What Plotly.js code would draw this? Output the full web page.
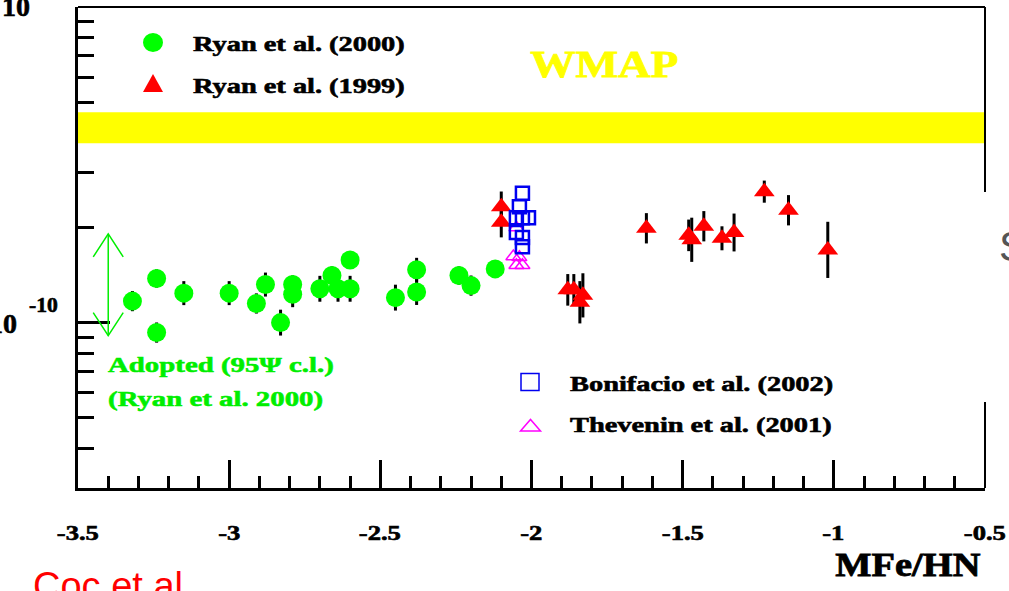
<!DOCTYPE html>
<html>
<head>
<meta charset="utf-8">
<script src="https://cdn.plot.ly/plotly-3.0.1.min.js"></script>
<style>
  html, body { margin: 0; padding: 0; background: #ffffff; }
  #chart { width: 1009px; height: 591px; }
</style>
</head>
<body>
<div id="chart"></div>
<script>
// Lithium abundance (Li/H) of metal-poor halo stars versus metallicity [Fe/H]

// Ryan et al. (2000)
const ryan2000Fe = [-3.32, -3.24, -3.24, -3.15, -3.00, -2.91, -2.88, -2.83, -2.79, -2.79, -2.70,
                    -2.66, -2.64, -2.60, -2.60, -2.45, -2.38, -2.38, -2.24, -2.20, -2.12];
const ryan2000Li = [1.17e-10, 1.38e-10, 0.93e-10, 1.24e-10, 1.24e-10, 1.15e-10, 1.32e-10, 1.00e-10,
                    1.32e-10, 1.23e-10, 1.28e-10, 1.41e-10, 1.28e-10, 1.58e-10, 1.28e-10, 1.20e-10,
                    1.47e-10, 1.25e-10, 1.41e-10, 1.31e-10, 1.48e-10];
const ryan2000ErrDex = [0.032, 0.029, 0.032, 0.038, 0.038, 0.032, 0.038, 0.041, 0.029, 0.041, 0.041,
                        0.029, 0.041, 0.025, 0.041, 0.041, 0.038, 0.041, 0.029, 0.032, 0.025];

// Ryan et al. (1999)
const ryan1999Fe = [-2.10, -2.10, -1.88, -1.86, -1.83, -1.84, -1.62, -1.48, -1.47, -1.43, -1.37,
                    -1.33, -1.23, -1.15, -1.02];
const ryan1999Li = [2.33e-10, 2.08e-10, 1.27e-10, 1.27e-10, 1.22e-10, 1.16e-10, 1.99e-10, 1.89e-10,
                    1.83e-10, 2.02e-10, 1.85e-10, 1.93e-10, 2.60e-10, 2.27e-10, 1.70e-10];
const ryan1999ErrDex = [0.048, 0.048, 0.050, 0.050, 0.070, 0.067, 0.048, 0.050, 0.070, 0.048, 0.038,
                        0.060, 0.035, 0.048, 0.089];

// Bonifacio et al. (2002)
const bonifacioFe = [-2.03, -2.04, -2.05, -2.03, -2.01, -2.05, -2.03, -2.03];
const bonifacioLi = [2.57e-10, 2.33e-10, 2.15e-10, 2.15e-10, 2.15e-10, 1.93e-10, 1.86e-10, 1.74e-10];

// Thevenin et al. (2001)
const theveninFe = [-2.05, -2.06, -2.04, -2.05, -2.03];
const theveninLi = [2.00e-10, 1.62e-10, 1.61e-10, 1.52e-10, 1.52e-10];

// WMAP-based BBN prediction
const wmapLi = 4.15e-10;
const wmapLiPlus = 0.49e-10;
const wmapLiMinus = 0.45e-10;

// Adopted plateau interval (95% c.l.)
const adoptedFe = -3.40;
const adoptedLow = 0.91e-10;
const adoptedHigh = 1.91e-10;

// Axis ticks
const xTickVals = [-3.5, -3, -2.5, -2, -1.5, -1, -0.5];
const xTickText = ['-3.5', '-3', '-2.5', '-2', '-1.5', '-1', '-0.5'];
const yMajorVals = [1e-10];
const yMinorVals = [3e-11, 4e-11, 5e-11, 6e-11, 7e-11, 8e-11, 9e-11,
                    2e-10, 3e-10, 4e-10, 5e-10, 6e-10, 7e-10, 8e-10, 9e-10];

// ---- styling ----
const SERIF = 'Liberation Serif, Times New Roman, serif';
const SANS = 'Liberation Sans, Arial, sans-serif';
const GREEN = '#00ff00';
const GREEN_TEXT = '#00ee00';
const RED = '#ff0000';
const BLUE = '#0000f0';
const MAGENTA = '#ff00ff';

// plot-area geometry in pixels
const W = 1009, H = 591;
const PL = 78, PR = 985, PT = 7, PB = 488;
const px = p => (p - PL) / (PR - PL);
const py = p => (PB - p) / (PB - PT);

// error bars from dex half-widths
const upErr = (vals, dex) => vals.map((v, i) => v * (Math.pow(10, dex[i]) - 1));
const downErr = (vals, dex) => vals.map((v, i) => v * (1 - Math.pow(10, -dex[i])));

const errStyle = { color: '#000000', thickness: 3, width: 0 };

const traces = [
  {
    name: 'Ryan et al. (2000)', type: 'scatter', mode: 'markers',
    x: ryan2000Fe, y: ryan2000Li,
    error_y: Object.assign({ type: 'data', symmetric: false,
      array: upErr(ryan2000Li, ryan2000ErrDex), arrayminus: downErr(ryan2000Li, ryan2000ErrDex) }, errStyle),
    marker: { symbol: 'circle', size: 19, color: GREEN, line: { width: 0 } }
  },
  {
    name: 'Ryan et al. (1999)', type: 'scatter', mode: 'markers',
    x: ryan1999Fe, y: ryan1999Li,
    error_y: Object.assign({ type: 'data', symmetric: false,
      array: upErr(ryan1999Li, ryan1999ErrDex), arrayminus: downErr(ryan1999Li, ryan1999ErrDex) }, errStyle),
    marker: { symbol: 'triangle-up', size: 18, color: RED, line: { width: 0 } }
  },
  {
    name: 'Thevenin et al. (2001)', type: 'scatter', mode: 'markers',
    x: theveninFe, y: theveninLi,
    marker: { symbol: 'triangle-up-open', size: 13, color: MAGENTA, line: { width: 1.5, color: MAGENTA } }
  },
  {
    name: 'Bonifacio et al. (2002)', type: 'scatter', mode: 'markers',
    x: bonifacioFe, y: bonifacioLi,
    marker: { symbol: 'square-open', size: 13, color: BLUE, line: { width: 2.5, color: BLUE } }
  }
];

const shapes = [
  // WMAP band
  { type: 'rect', xref: 'x', yref: 'y', x0: -3.5, x1: -0.5,
    y0: wmapLi - wmapLiMinus, y1: wmapLi + wmapLiPlus,
    fillcolor: '#ffff00', line: { width: 0 }, layer: 'above' },
  // frame: top and right edges
  { type: 'line', xref: 'paper', yref: 'paper', x0: 0, x1: 1, y0: 1, y1: 1,
    line: { color: '#000', width: 2 } },
  { type: 'line', xref: 'paper', yref: 'paper', x0: 1, x1: 1, y0: py(192), y1: 1,
    line: { color: '#000', width: 2 } },
  { type: 'line', xref: 'paper', yref: 'paper', x0: 1, x1: 1, y0: 0, y1: py(402),
    line: { color: '#000', width: 2 } },
  // adopted interval: double arrow
  { type: 'line', xref: 'x', yref: 'y', x0: adoptedFe, x1: adoptedFe, y0: adoptedLow, y1: adoptedHigh,
    line: { color: GREEN_TEXT, width: 1.5 } },
  { type: 'path', xref: 'x', yref: 'y', xsizemode: 'pixel', ysizemode: 'pixel',
    xanchor: adoptedFe, yanchor: adoptedHigh, path: 'M-15,-23 L0,0 L15,-23',
    line: { color: GREEN_TEXT, width: 1.5 } },
  { type: 'path', xref: 'x', yref: 'y', xsizemode: 'pixel', ysizemode: 'pixel',
    xanchor: adoptedFe, yanchor: adoptedLow, path: 'M-15,23 L0,0 L15,23',
    line: { color: GREEN_TEXT, width: 1.5 } },
  // key symbols
  { type: 'circle', xref: 'paper', yref: 'paper', xsizemode: 'pixel', ysizemode: 'pixel',
    xanchor: px(153), yanchor: py(42.5), x0: -10, x1: 10, y0: -9.5, y1: 9.5,
    fillcolor: GREEN, line: { width: 0 } },
  { type: 'path', xref: 'paper', yref: 'paper', xsizemode: 'pixel', ysizemode: 'pixel',
    xanchor: px(153), yanchor: py(83), path: 'M-10,-9 L10,-9 L0,9 Z',
    fillcolor: RED, line: { width: 0 } },
  { type: 'rect', xref: 'paper', yref: 'paper', xsizemode: 'pixel', ysizemode: 'pixel',
    xanchor: px(530), yanchor: py(382), x0: -9, x1: 9, y0: -8.5, y1: 8.5,
    line: { color: BLUE, width: 1.5 } },
  { type: 'path', xref: 'paper', yref: 'paper', xsizemode: 'pixel', ysizemode: 'pixel',
    xanchor: px(530.5), yanchor: py(425.5), path: 'M-10,-5.5 L10,-5.5 L0,6 Z',
    line: { color: MAGENTA, width: 1.5 } }
];

// annotations, each with a horizontal stretch and stroke weight applied after drawing
const annotations = [];
const annStretch = [];
const annStroke = [];
function addText(text, x, y, size, color, xanchor, stretch, extra, stroke) {
  annotations.push(Object.assign({
    text: text, xref: 'paper', yref: 'paper', x: px(x), y: py(y),
    xanchor: xanchor || 'left', yanchor: 'middle', showarrow: false,
    font: { family: SERIF, size: size, color: color || '#000', weight: 'bold' }
  }, extra || {}));
  annStretch.push(stretch || 1);
  annStroke.push(stroke === undefined ? 0.6 : stroke);
}

addText('Ryan et al. (2000)', 191, 44, 22, '#000', 'left', 1.29);
addText('Ryan et al. (1999)', 191, 86, 22, '#000', 'left', 1.29);
addText('WMAP', 604, 64, 38, '#ffff00', 'center', 1.19, null, 0.8);
addText('Adopted (95\u03A8 c.l.)', 106, 365, 22, GREEN_TEXT, 'left', 1.31);
addText('(Ryan et al. 2000)', 106, 398, 22, GREEN_TEXT, 'left', 1.31);
addText('Bonifacio et al. (2002)', 568, 383, 22, '#000', 'left', 1.29);
addText('Thevenin et al. (2001)', 568, 424, 22, '#000', 'left', 1.29);
addText('MFe/HN', 983, 564, 34, '#000', 'right', 1.13, null, 0.8);
// y-axis decade labels
addText('10', 0, 6, 28, '#000', 'left', 1);
addText('10', 19, 323, 28, '#000', 'right', 1);
addText('-10', 27, 305, 20, '#000', 'left', 1.08);
// x-axis tick labels placed at the tick values
xTickVals.forEach((v, i) => {
  annotations.push({
    text: xTickText[i], xref: 'x', yref: 'paper', x: v, y: py(533),
    xanchor: 'center', yanchor: 'middle', showarrow: false,
    font: { family: SERIF, size: 20, color: '#000', weight: 'bold' }
  });
  annStretch.push(1.33);
  annStroke.push(0.6);
});
// caption and edge text
addText('Coc et al', 31, 586, 38, RED, 'left', 1, { font: { family: SANS, size: 38, color: RED } }, 0);
addText('S', 997, 246, 42, '#555555', 'left', 1, { font: { family: SANS, size: 42, color: '#555555' } }, 0);

const layout = {
  width: W, height: H,
  margin: { l: PL, r: W - PR, t: PT, b: H - PB, pad: 0 },
  paper_bgcolor: '#ffffff', plot_bgcolor: '#ffffff',
  showlegend: false,
  xaxis: {
    range: [-3.5, -0.5], showgrid: false, zeroline: false,
    showline: true, linecolor: '#000', linewidth: 3,
    tickmode: 'array', tickvals: xTickVals, showticklabels: false,
    ticks: 'inside', ticklen: 28, tickwidth: 3, tickcolor: '#000',
    minor: { dtick: 0.1, tick0: -3.5, ticks: 'inside', ticklen: 12, tickwidth: 3, tickcolor: '#000', showgrid: false }
  },
  yaxis: {
    type: 'log', range: [-10.524, -9.0], showgrid: false, zeroline: false,
    showline: true, linecolor: '#000', linewidth: 3,
    tickmode: 'array', tickvals: yMajorVals, showticklabels: false,
    ticks: 'inside', ticklen: 32, tickwidth: 3, tickcolor: '#000',
    minor: { tickmode: 'array', tickvals: yMinorVals, ticks: 'inside', ticklen: 16, tickwidth: 3, tickcolor: '#000', showgrid: false }
  },
  shapes: shapes,
  annotations: annotations
};

Plotly.newPlot('chart', traces, layout, { displayModeBar: false, staticPlot: true }).then(gd => {
  // widen and thicken the bold serif lettering
  gd.querySelectorAll('g.annotation').forEach(g => {
    const i = +g.getAttribute('data-index');
    const t = g.querySelector('text.annotation-text');
    if (!t) return;
    const a = annotations[i];
    const s = annStretch[i];
    const w = annStroke[i];
    if (w) {
      t.style.stroke = a.font.color;
      t.style.strokeWidth = w + 'px';
      t.style.paintOrder = 'stroke';
    }
    if (s && s !== 1) {
      const ox = a.xanchor === 'right' ? '100%' : (a.xanchor === 'center' ? '50%' : '0%');
      t.style.transformBox = 'fill-box';
      t.style.transformOrigin = ox + ' 50%';
      t.style.transform = 'scaleX(' + s + ')';
    }
  });
});
</script>
</body>
</html>
